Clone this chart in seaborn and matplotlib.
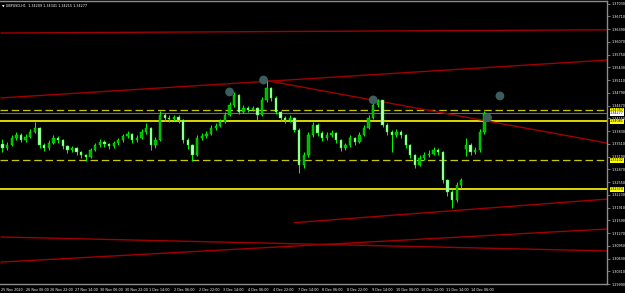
import matplotlib
matplotlib.use("Agg")
import matplotlib.pyplot as plt
import matplotlib.transforms as mtransforms
import numpy as np
import pandas as pd
import seaborn as sns

# ---------------- data ----------------
title_text = "GBPUSD,H1  1.34209 1.34341 1.34215 1.34277"

first_open = 1.3350
gap_opens = {100: 1.3338}

closes = [1.3340, 1.3348, 1.3365, 1.3373, 1.3360, 1.3368, 1.3381, 1.3391, 1.3348, 1.3340,
          1.3353, 1.3365, 1.3360, 1.3345, 1.3335, 1.3340, 1.3330, 1.3323, 1.3318, 1.3335,
          1.3348, 1.3355, 1.3350, 1.3345, 1.3353, 1.3360, 1.3370, 1.3376, 1.3360, 1.3365,
          1.3381, 1.3391, 1.3348, 1.3360, 1.3423, 1.3416, 1.3413, 1.3418, 1.3411, 1.3360,
          1.3348, 1.3323, 1.3365, 1.3370, 1.3376, 1.3391, 1.3396, 1.3406, 1.3423, 1.3448,
          1.3473, 1.3431, 1.3441, 1.3436, 1.3441, 1.3423, 1.3461, 1.3491, 1.3466, 1.3431,
          1.3416, 1.3411, 1.3416, 1.3386, 1.3298, 1.3323, 1.3373, 1.3398, 1.3378, 1.3365,
          1.3373, 1.3378, 1.3360, 1.3340, 1.3348, 1.3365, 1.3355, 1.3373, 1.3391, 1.3416,
          1.3448, 1.3461, 1.3398, 1.3381, 1.3373, 1.3381, 1.3373, 1.3348, 1.3323, 1.3298,
          1.3315, 1.3323, 1.3325, 1.3335, 1.3330, 1.3260, 1.3230, 1.3210, 1.3247, 1.3260,
          1.3348, 1.3330, 1.3335, 1.3381, 1.3428]

highs = [1.3362, 1.3355, 1.3372, 1.3380, 1.3378, 1.3375, 1.3388, 1.3405, 1.3392, 1.3352,
         1.3360, 1.3372, 1.3370, 1.3362, 1.3348, 1.3346, 1.3344, 1.3334, 1.3326, 1.3340,
         1.3354, 1.3362, 1.3360, 1.3354, 1.3358, 1.3366, 1.3376, 1.3382, 1.3378, 1.3372,
         1.3388, 1.3402, 1.3392, 1.3368, 1.3432, 1.3428, 1.3422, 1.3424, 1.3422, 1.3412,
         1.3366, 1.3350, 1.3372, 1.3377, 1.3384, 1.3397, 1.3403, 1.3412, 1.3430, 1.3455,
         1.3480, 1.3476, 1.3448, 1.3446, 1.3447, 1.3443, 1.3468, 1.3510, 1.3494, 1.3470,
         1.3434, 1.3420, 1.3422, 1.3418, 1.3390, 1.3330, 1.3380, 1.3406, 1.3402, 1.3382,
         1.3380, 1.3386, 1.3380, 1.3362, 1.3354, 1.3372, 1.3368, 1.3380, 1.3398, 1.3424,
         1.3456, 1.3463, 1.3462, 1.3402, 1.3386, 1.3388, 1.3386, 1.3376, 1.3350, 1.3326,
         1.3322, 1.3330, 1.3336, 1.3342, 1.3340, 1.3334, 1.3262, 1.3236, 1.3254, 1.3266,
         1.3365, 1.3352, 1.3342, 1.3388, 1.3434]

lows = [1.3330, 1.3335, 1.3345, 1.3360, 1.3355, 1.3356, 1.3365, 1.3378, 1.3340, 1.3332,
        1.3336, 1.3350, 1.3352, 1.3338, 1.3328, 1.3330, 1.3322, 1.3315, 1.3308, 1.3314,
        1.3332, 1.3344, 1.3343, 1.3338, 1.3340, 1.3348, 1.3356, 1.3365, 1.3352, 1.3355,
        1.3362, 1.3376, 1.3335, 1.3340, 1.3358, 1.3408, 1.3406, 1.3407, 1.3402, 1.3352,
        1.3338, 1.3308, 1.3320, 1.3360, 1.3366, 1.3372, 1.3386, 1.3392, 1.3402, 1.3420,
        1.3444, 1.3425, 1.3428, 1.3430, 1.3432, 1.3410, 1.3420, 1.3455, 1.3458, 1.3425,
        1.3408, 1.3404, 1.3406, 1.3380, 1.3278, 1.3290, 1.3318, 1.3368, 1.3370, 1.3358,
        1.3360, 1.3368, 1.3352, 1.3332, 1.3335, 1.3343, 1.3348, 1.3352, 1.3370, 1.3388,
        1.3412, 1.3442, 1.3392, 1.3372, 1.3330, 1.3368, 1.3366, 1.3340, 1.3315, 1.3290,
        1.3294, 1.3310, 1.3318, 1.3322, 1.3324, 1.3252, 1.3220, 1.3190, 1.3205, 1.3240,
        1.3320, 1.3322, 1.3325, 1.3330, 1.3376]

# horizontal levels
solid_levels = [1.34081, 1.32374]
dashed_levels = [1.34357, 1.33102]
bid_price = 1.34277

# trend lines: (hour0, price0, hour1, price1)
trend_lines = [
    (0, 1.3629, 392, 1.3637),
    (0, 1.3466, 392, 1.3561),
    (170, 1.3511, 392, 1.3353),
    (190, 1.3153, 392, 1.3212),
    (0, 1.3054, 392, 1.3137),
    (0, 1.3117, 392, 1.3082),
]

# circle markers (hour, price)
marker_hours = [148, 170, 241, 315, 323]
marker_prices = [1.3481, 1.3511, 1.3461, 1.3416, 1.3471]

ytick_values = [1.29990, 1.30310, 1.30630, 1.30950, 1.31270, 1.31590, 1.31910, 1.32230,
                1.32550, 1.32870, 1.33190, 1.33510, 1.33830, 1.34150, 1.34470, 1.34790,
                1.35110, 1.35430, 1.35750, 1.36070, 1.36390, 1.36710, 1.37030]

xtick_labels = ["25 Nov 2020", "26 Nov 06:00", "26 Nov 22:00", "27 Nov 14:00", "30 Nov 06:00",
                "30 Nov 22:00", "1 Dec 14:00", "2 Dec 06:00", "2 Dec 22:00", "3 Dec 14:00",
                "4 Dec 06:00", "4 Dec 22:00", "7 Dec 14:00", "8 Dec 06:00", "8 Dec 22:00",
                "9 Dec 14:00", "10 Dec 06:00", "10 Dec 22:00", "11 Dec 14:00", "14 Dec 06:00"]

# ---------------- style ----------------
sns.set_theme(style="dark")
plt.rcParams.update({
    "figure.facecolor": "black",
    "axes.facecolor": "black",
    "savefig.facecolor": "black",
    "axes.edgecolor": "#8c8c8c",
    "xtick.color": "#8c8c8c",
    "ytick.color": "#8c8c8c",
})
plt.rcParams["font.family"] = ["DejaVu Sans"]

FS = 2.4
W, H = 625, 293
fig = plt.figure(figsize=(W / 100, H / 100), dpi=100)
ax = fig.add_axes([0, 9 / H, 607 / W, 283 / H])

y_bottom, y_top = 1.29990, 1.37093
ax.set_ylim(y_bottom, y_top)
ax.set_xlim(-0.6, 392.3)

# candles
n = len(closes)
opens = [first_open] + closes[:-1]
for k, v in gap_opens.items():
    opens[k] = v
hours = np.arange(n) * 3 + 1
o = np.array(opens); c = np.array(closes)
hi = np.maximum(np.array(highs), np.maximum(o, c))
lo = np.minimum(np.array(lows), np.minimum(o, c))

ax.vlines(hours, lo, hi, color="#00ff00", lw=0.7, zorder=3)
bull = c >= o
body_h = np.maximum(np.abs(c - o), 0.00008)
ax.bar(hours[bull], body_h[bull], bottom=np.minimum(o, c)[bull], width=1.5,
       color="#00b400", edgecolor="#00ff00", lw=0.3, zorder=4)
ax.bar(hours[~bull], body_h[~bull], bottom=np.minimum(o, c)[~bull], width=1.5,
       color="#b8ffb8", edgecolor="#00ff00", lw=0.3, zorder=4)

# horizontal levels
for lv in solid_levels:
    ax.axhline(lv, color="#ffff00", lw=1.2, zorder=2)
for lv in dashed_levels:
    ax.axhline(lv, color="#c8c800", lw=0.9, ls=(0, (6, 3)), zorder=2)
ax.axhline(bid_price, color="#6e6e6e", lw=0.8, zorder=2)

# trend lines
for (h0, p0, h1, p1) in trend_lines:
    df = pd.DataFrame({"h": [h0, h1], "p": [p0, p1]})
    sns.lineplot(data=df, x="h", y="p", ax=ax, color="#a00000", lw=1.0, zorder=2,
                 estimator=None, sort=False)

# markers
mdf = pd.DataFrame({"h": marker_hours, "p": marker_prices})
sns.scatterplot(data=mdf, x="h", y="p", ax=ax, s=40, color="#3d5c5c",
                edgecolor="none", zorder=5)

ax.set_xlabel("")
ax.set_ylabel("")
ax.grid(False)

# axes / ticks
ax.spines["left"].set_visible(False)
for side in ["right", "bottom", "top"]:
    ax.spines[side].set_visible(True)
    ax.spines[side].set_color("#8c8c8c")
    ax.spines[side].set_linewidth(1.0)

ax.yaxis.tick_right()
ax.set_yticks(ytick_values)
ax.set_yticklabels([f"{v:.5f}" for v in ytick_values], fontsize=FS, color="white")
ax.tick_params(axis="y", direction="out", length=2, width=0.6, pad=1.0, colors="#8c8c8c",
               labelcolor="white")

xt = np.arange(len(xtick_labels)) * 16
ax.set_xticks(xt)
ax.set_xticklabels(xtick_labels, fontsize=FS, color="white", ha="left")
ax.tick_params(axis="x", direction="out", length=2, width=0.6, pad=0.8, colors="#8c8c8c",
               labelcolor="white")

# right-side price boxes
trans = mtransforms.blended_transform_factory(ax.transAxes, ax.transData)
for lv in solid_levels + dashed_levels:
    ax.text(1.005, lv, f"{lv:.5f}", transform=trans, fontsize=FS, color="black",
            va="center", ha="left", clip_on=False, zorder=10,
            bbox=dict(boxstyle="square,pad=0.15", facecolor="#ffff00", edgecolor="none"))
ax.text(1.005, bid_price, f"{bid_price:.5f}", transform=trans, fontsize=FS, color="black",
        va="center", ha="left", clip_on=False, zorder=10,
        bbox=dict(boxstyle="square,pad=0.15", facecolor="white", edgecolor="none"))

# title
fig.text(2 / W, 1 - 5.5 / H, "\u25bc " + title_text, fontsize=FS, color="white",
         va="center", ha="left")

fig.savefig("out.png", dpi=100, facecolor="black")
